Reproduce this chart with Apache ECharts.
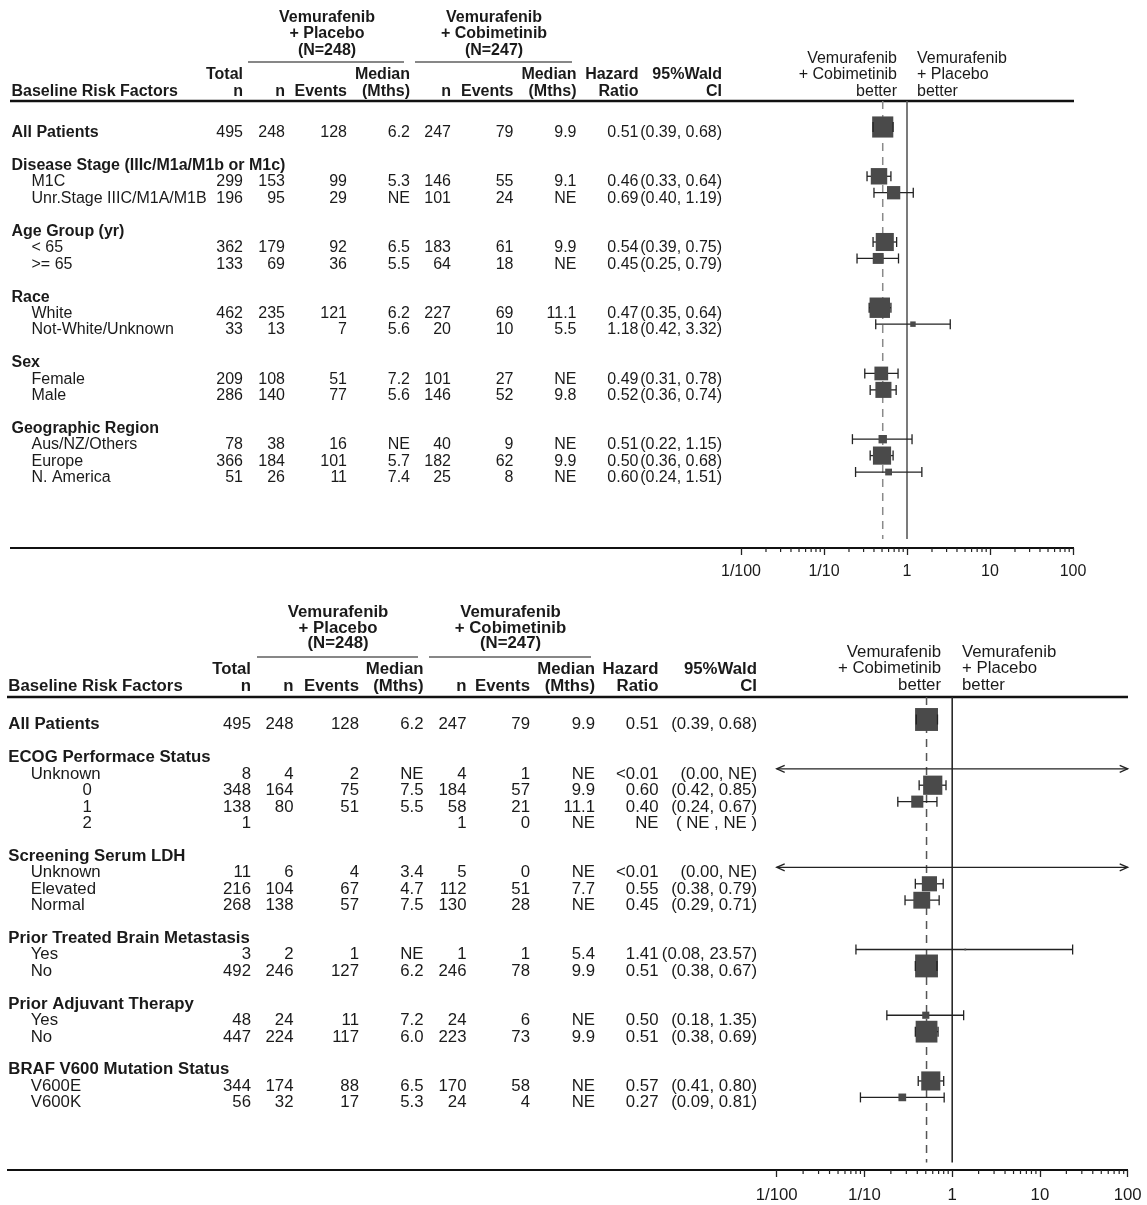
<!DOCTYPE html>
<html>
<head>
<meta charset="utf-8">
<title>Forest plot - Vemurafenib + Cobimetinib vs Vemurafenib + Placebo</title>
<script src="https://cdn.jsdelivr.net/npm/echarts@6/dist/echarts.min.js"></script>
<style>
html, body { margin: 0; padding: 0; background: #fff; }
#main { width: 1147px; height: 1205px; }
</style>
</head>
<body>
<div id="main"></div>
<script>
'use strict';
// ---------- 上半部分数据 (top panel) ----------
var topLabels = ['All Patients', '', 'Disease Stage (IIIc/M1a/M1b or M1c)', 'M1C', 'Unr.Stage IIIC/M1A/M1B', '',
    'Age Group (yr)', '< 65', '>= 65', '', 'Race', 'White', 'Not-White/Unknown', '',
    'Sex', 'Female', 'Male', '', 'Geographic Region', 'Aus/NZ/Others', 'Europe', 'N. America'];
// h = bold heading, s = indented sub row, '' = blank
var topKinds = ['h', '', 'h', 's', 's', '', 'h', 's', 's', '', 'h', 's', 's', '', 'h', 's', 's', '', 'h', 's', 's', 's'];
var topTotal = ['495', '', '', '299', '196', '', '', '362', '133', '', '', '462', '33', '', '', '209', '286', '', '', '78', '366', '51'];
var topN1 = ['248', '', '', '153', '95', '', '', '179', '69', '', '', '235', '13', '', '', '108', '140', '', '', '38', '184', '26'];
var topEv1 = ['128', '', '', '99', '29', '', '', '92', '36', '', '', '121', '7', '', '', '51', '77', '', '', '16', '101', '11'];
var topMed1 = ['6.2', '', '', '5.3', 'NE', '', '', '6.5', '5.5', '', '', '6.2', '5.6', '', '', '7.2', '5.6', '', '', 'NE', '5.7', '7.4'];
var topN2 = ['247', '', '', '146', '101', '', '', '183', '64', '', '', '227', '20', '', '', '101', '146', '', '', '40', '182', '25'];
var topEv2 = ['79', '', '', '55', '24', '', '', '61', '18', '', '', '69', '10', '', '', '27', '52', '', '', '9', '62', '8'];
var topMed2 = ['9.9', '', '', '9.1', 'NE', '', '', '9.9', 'NE', '', '', '11.1', '5.5', '', '', 'NE', '9.8', '', '', 'NE', '9.9', 'NE'];
var topHr = ['0.51', '', '', '0.46', '0.69', '', '', '0.54', '0.45', '', '', '0.47', '1.18', '', '', '0.49', '0.52', '', '', '0.51', '0.50', '0.60'];
var topLo = ['0.39', '', '', '0.33', '0.40', '', '', '0.39', '0.25', '', '', '0.35', '0.42', '', '', '0.31', '0.36', '', '', '0.22', '0.36', '0.24'];
var topHi = ['0.68', '', '', '0.64', '1.19', '', '', '0.75', '0.79', '', '', '0.64', '3.32', '', '', '0.78', '0.74', '', '', '1.15', '0.68', '1.51'];

// ---------- 下半部分数据 (bottom panel) ----------
var botLabels = ['All Patients', '', 'ECOG Performace Status', 'Unknown', '0', '1', '2', '',
    'Screening Serum LDH', 'Unknown', 'Elevated', 'Normal', '',
    'Prior Treated Brain Metastasis', 'Yes', 'No', '', 'Prior Adjuvant Therapy', 'Yes', 'No', '',
    'BRAF V600 Mutation Status', 'V600E', 'V600K'];
// c = sub row written further right (ECOG grades)
var botKinds = ['h', '', 'h', 's', 'c', 'c', 'c', '', 'h', 's', 's', 's', '', 'h', 's', 's', '', 'h', 's', 's', '', 'h', 's', 's'];
var botTotal = ['495', '', '', '8', '348', '138', '1', '', '', '11', '216', '268', '', '', '3', '492', '', '', '48', '447', '', '', '344', '56'];
var botN1 = ['248', '', '', '4', '164', '80', '', '', '', '6', '104', '138', '', '', '2', '246', '', '', '24', '224', '', '', '174', '32'];
var botEv1 = ['128', '', '', '2', '75', '51', '', '', '', '4', '67', '57', '', '', '1', '127', '', '', '11', '117', '', '', '88', '17'];
var botMed1 = ['6.2', '', '', 'NE', '7.5', '5.5', '', '', '', '3.4', '4.7', '7.5', '', '', 'NE', '6.2', '', '', '7.2', '6.0', '', '', '6.5', '5.3'];
var botN2 = ['247', '', '', '4', '184', '58', '1', '', '', '5', '112', '130', '', '', '1', '246', '', '', '24', '223', '', '', '170', '24'];
var botEv2 = ['79', '', '', '1', '57', '21', '0', '', '', '0', '51', '28', '', '', '1', '78', '', '', '6', '73', '', '', '58', '4'];
var botMed2 = ['9.9', '', '', 'NE', '9.9', '11.1', 'NE', '', '', 'NE', '7.7', 'NE', '', '', '5.4', '9.9', '', '', 'NE', '9.9', '', '', 'NE', 'NE'];
var botHr = ['0.51', '', '', '<0.01', '0.60', '0.40', 'NE', '', '', '<0.01', '0.55', '0.45', '', '', '1.41', '0.51', '', '', '0.50', '0.51', '', '', '0.57', '0.27'];
var botLo = ['0.39', '', '', '0.00', '0.42', '0.24', 'NE', '', '', '0.00', '0.38', '0.29', '', '', '0.08', '0.38', '', '', '0.18', '0.38', '', '', '0.41', '0.09'];
var botHi = ['0.68', '', '', 'NE', '0.85', '0.67', 'NE', '', '', 'NE', '0.79', '0.71', '', '', '23.57', '0.67', '', '', '1.35', '0.69', '', '', '0.80', '0.81'];

// ---------- 表头 / 坐标轴文字 ----------
var groupTitles = [['Vemurafenib', '+ Placebo', '(N=248)'], ['Vemurafenib', '+ Cobimetinib', '(N=247)']];
var headRow1 = ['Total', '', '', 'Median', '', '', 'Median', 'Hazard', '95%Wald'];
var headRow2 = ['n', 'n', 'Events', '(Mths)', 'n', 'Events', '(Mths)', 'Ratio', 'CI'];
var leftBetter = ['Vemurafenib', '+ Cobimetinib', 'better'];
var rightBetter = ['Vemurafenib', '+ Placebo', 'better'];
var tickValues = [0.01, 0.1, 1, 10, 100];
var tickLabels = ['1/100', '1/10', '1', '10', '100'];
var minorMantissa = [2, 3, 4, 5, 6, 7, 8, 9];

var X_MIN = 0.01, X_MAX = 100;
var FAMILY = '"Liberation Sans", Arial, Helvetica, sans-serif';
var TEXT_COLOR = '#1a1a1a';
var TEXT_SHIFT = 1.8; // zrender 'middle' sits a little above the cap centre

var panels = [{
    labels: topLabels, kinds: topKinds,
    cols: [topTotal, topN1, topEv1, topMed1, topN2, topEv2, topMed2],
    hr: topHr, lo: topLo, hi: topHi,
    font: 16,
    colX: [243, 285, 347, 410, 451, 513.5, 576.5, 638.5, 722],
    indent: { h: 11.5, s: 31.5, c: 82.5 },
    grid: { left: 741, top: 101, width: 332, height: 447 },
    yMin: -1.582, yMax: 25.624, refEnd: 25.08,
    textDy: 4, sizeK: 0.95,
    groupX: [327, 494], groupY: [16, 32, 48.5], groupRuleY: 62, groupRules: [[248, 404], [415, 572]],
    headY: [73, 89.5], betterX: [897, 917], betterY: [57, 73, 89.5],
    ruleX: [10, 1074], headRuleY: 101, axisRuleY: 548,
    labelMargin: 16, refColor: '#5a5a5a', dashColor: '#8a8a8a'
}, {
    labels: botLabels, kinds: botKinds,
    cols: [botTotal, botN1, botEv1, botMed1, botN2, botEv2, botMed2],
    hr: botHr, lo: botLo, hi: botHi,
    font: 16.8,
    colX: [251, 293.5, 359, 423.5, 466.5, 530, 595, 658.5, 757],
    indent: { h: 8.3, s: 30.7, c: 82.5 },
    grid: { left: 776.7, top: 697, width: 351, height: 473 },
    yMin: -1.369, yMax: 27.42, refEnd: 26.97,
    textDy: 3.5, sizeK: 1.03,
    groupX: [338, 510.5], groupY: [610.7, 626.7, 642], groupRuleY: 657, groupRules: [[257, 418], [429, 591]],
    headY: [668, 684.5], betterX: [941, 962], betterY: [651, 667, 684],
    ruleX: [7, 1128], headRuleY: 697, axisRuleY: 1170,
    labelMargin: 17, refColor: '#2a2a2a', dashColor: '#555'
}];

// 每一行的森林图数据: [HR, 行号, 下限, 上限, 总例数]
function buildForestData(p) {
    var out = [];
    for (var i = 0; i < p.labels.length; i++) {
        if (p.lo[i] === '') continue;
        var lo = parseFloat(p.lo[i]);
        if (isNaN(lo)) continue; // NE, NE: nothing to draw
        var hr = parseFloat(p.hr[i]);
        var hi = parseFloat(p.hi[i]);
        out.push([isNaN(hr) ? null : hr, i, lo, isNaN(hi) ? null : hi, parseInt(p.cols[0][i], 10)]);
    }
    return out;
}

function forestRenderer(sizeK) {
    return function (params, api) {
        var hr = api.value(0), row = api.value(1), lo = api.value(2), hi = api.value(3), n = api.value(4);
        var y = api.coord([1, row])[1];
        var loOpen = !(lo >= X_MIN);
        var hiOpen = isNaN(hi) || hi > X_MAX;
        var x1 = api.coord([loOpen ? X_MIN : lo, row])[0];
        var x2 = api.coord([hiOpen ? X_MAX : hi, row])[0];
        var ls = { stroke: '#222', lineWidth: 1.3, fill: null };
        var kids = [{ type: 'line', shape: { x1: x1, y1: y, x2: x2, y2: y }, style: ls }];
        if (!isNaN(hr) && hr >= X_MIN) {
            var c = api.coord([hr, row]);
            var s = Math.sqrt(n) * sizeK;
            kids.push({ type: 'rect', shape: { x: c[0] - s / 2, y: c[1] - s / 2, width: s, height: s }, style: { fill: '#4a4a4a' } });
        }
        // 左端: 截断箭头或短竖线
        if (loOpen) {
            kids.push({ type: 'polyline', shape: { points: [[x1 + 8, y - 3.5], [x1, y], [x1 + 8, y + 3.5]] }, style: ls });
        } else {
            kids.push({ type: 'line', shape: { x1: x1, y1: y - 5, x2: x1, y2: y + 5 }, style: ls });
        }
        if (hiOpen) {
            kids.push({ type: 'polyline', shape: { points: [[x2 - 8, y - 3.5], [x2, y], [x2 - 8, y + 3.5]] }, style: ls });
        } else {
            kids.push({ type: 'line', shape: { x1: x2, y1: y - 5, x2: x2, y2: y + 5 }, style: ls });
        }
        return { type: 'group', children: kids };
    };
}

function refRenderer(p) {
    return function (params, api) {
        var v = api.value(0);
        var a = api.coord([v, api.value(1)]);
        var b = api.coord([v, api.value(2)]);
        var dashed = api.value(3) === 1;
        return {
            type: 'line',
            shape: { x1: a[0], y1: a[1], x2: b[0], y2: b[1] },
            style: dashed ? { stroke: p.dashColor, lineWidth: 1.5, lineDash: [8, 6] } : { stroke: p.refColor, lineWidth: 1.6 }
        };
    };
}

function minorTickRenderer(params, api) {
    var a = api.coord([api.value(0), api.value(1)]);
    return { type: 'line', shape: { x1: a[0], y1: a[1], x2: a[0], y2: a[1] + 4 }, style: { stroke: '#222', lineWidth: 1.2 } };
}

function tickName(v) {
    for (var i = 0; i < tickValues.length; i++) {
        if (Math.abs(Math.log10(v) - Math.log10(tickValues[i])) < 1e-6) return tickLabels[i];
    }
    return '';
}

var grids = [], xAxes = [], yAxes = [], series = [];
panels.forEach(function (p, k) {
    grids.push({ left: p.grid.left, top: p.grid.top, width: p.grid.width, height: p.grid.height, containLabel: false, outerBoundsMode: 'none' });
    xAxes.push({
        type: 'log', logBase: 10, gridIndex: k, min: X_MIN, max: X_MAX, position: 'bottom',
        axisLine: { show: false, onZero: false },
        axisTick: { show: true, length: 7, lineStyle: { color: '#222', width: 1.3 } },
        splitLine: { show: false },
        axisLabel: { margin: p.labelMargin, fontSize: p.font, fontFamily: FAMILY, color: TEXT_COLOR, formatter: tickName }
    });
    yAxes.push({ type: 'value', gridIndex: k, inverse: true, min: p.yMin, max: p.yMax, show: false });

    var minor = [];
    for (var d = 0.01; d < 99; d *= 10) {
        minorMantissa.forEach(function (m) { minor.push([m * d, p.yMax]); });
    }
    var overall = parseFloat(p.hr[0]);
    series.push({
        type: 'custom', name: 'ref' + k, xAxisIndex: k, yAxisIndex: k, silent: true,
        encode: { x: 0, y: 1 },
        data: [[1, p.yMin, p.refEnd, 0], [overall, p.yMin, p.refEnd, 1]],
        renderItem: refRenderer(p)
    });
    series.push({
        type: 'custom', name: 'minor' + k, xAxisIndex: k, yAxisIndex: k, silent: true,
        encode: { x: 0, y: 1 }, data: minor, renderItem: minorTickRenderer
    });
    series.push({
        type: 'custom', name: 'forest' + k, xAxisIndex: k, yAxisIndex: k, silent: true,
        encode: { x: 0, y: 1 }, data: buildForestData(p), renderItem: forestRenderer(p.sizeK)
    });
});

var chart = echarts.init(document.getElementById('main'), null, { renderer: 'canvas' });
chart.setOption({
    backgroundColor: '#fff',
    animation: false,
    grid: grids,
    xAxis: xAxes,
    yAxis: yAxes,
    series: series
});

// ---------- 表格文字 ----------
var measureCtx = document.createElement('canvas').getContext('2d');
function textWidth(s, font) {
    measureCtx.font = font;
    return measureCtx.measureText(s).width;
}
function txt(x, y, s, font, align, scaleX) {
    return {
        type: 'text', x: x, y: y + TEXT_SHIFT, scaleX: scaleX || 1, silent: true,
        style: { text: s, x: 0, y: 0, font: font, fill: TEXT_COLOR, textAlign: align, textVerticalAlign: 'middle' }
    };
}
function rule(x1, x2, y, w) {
    return { type: 'line', silent: true, shape: { x1: x1, y1: y, x2: x2, y2: y }, style: { stroke: '#111', lineWidth: w } };
}

var elements = [];
panels.forEach(function (p, k) {
    var reg = p.font + 'px ' + FAMILY;
    var bold = 'bold ' + p.font + 'px ' + FAMILY;
    // 分组标题
    groupTitles.forEach(function (lines, g) {
        lines.forEach(function (s, j) { elements.push(txt(p.groupX[g], p.groupY[j], s, bold, 'center')); });
        elements.push(rule(p.groupRules[g][0], p.groupRules[g][1], p.groupRuleY, 1.2));
    });
    headRow1.forEach(function (s, j) { if (s) elements.push(txt(p.colX[j], p.headY[0], s, bold, 'right')); });
    headRow2.forEach(function (s, j) { elements.push(txt(p.colX[j], p.headY[1], s, bold, 'right')); });
    elements.push(txt(p.indent.h, p.headY[1], 'Baseline Risk Factors', bold, 'left'));
    leftBetter.forEach(function (s, j) { elements.push(txt(p.betterX[0], p.betterY[j], s, reg, 'right')); });
    rightBetter.forEach(function (s, j) { elements.push(txt(p.betterX[1], p.betterY[j], s, reg, 'left')); });
    elements.push(rule(p.ruleX[0], p.ruleX[1], p.headRuleY, 2.5));
    elements.push(rule(p.ruleX[0], p.ruleX[1], p.axisRuleY, 2));

    // 数据行
    p.labels.forEach(function (label, i) {
        if (!label) return;
        var y = chart.convertToPixel({ gridIndex: k }, [1, i])[1] + p.textDy;
        var kind = p.kinds[i];
        var font = kind === 'h' ? bold : reg;
        var lx = p.indent[kind];
        // 标签过长时横向压缩, 不压到 Total 列
        var sx = 1;
        if (p.cols[0][i]) {
            var room = p.colX[0] - textWidth(p.cols[0][i], reg) - 1 - lx;
            var w = textWidth(label, font);
            if (w > room) sx = room / w;
        }
        elements.push(txt(lx, y, label, font, 'left', sx));
        p.cols.forEach(function (col, j) {
            if (col[i]) elements.push(txt(p.colX[j], y, col[i], reg, 'right'));
        });
        if (p.hr[i]) {
            elements.push(txt(p.colX[7], y, p.hr[i], reg, 'right'));
            var ci = (p.lo[i] === 'NE' && p.hi[i] === 'NE') ? '( NE , NE )' : '(' + p.lo[i] + ', ' + p.hi[i] + ')';
            elements.push(txt(p.colX[8], y, ci, reg, 'right'));
        }
    });
});

chart.setOption({ graphic: { elements: elements } });
</script>
</body>
</html>
